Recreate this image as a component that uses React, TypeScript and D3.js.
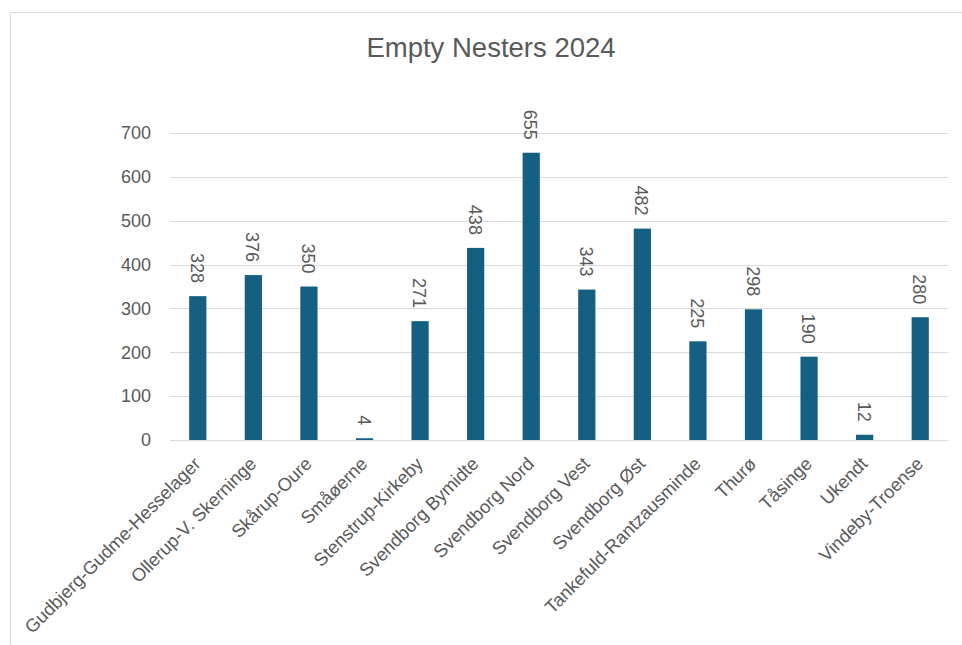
import React from "react";
import * as d3 from "d3";

const categories: string[] = [
  "Gudbjerg-Gudme-Hesselager",
  "Ollerup-V. Skerninge",
  "Skårup-Oure",
  "Småøerne",
  "Stenstrup-Kirkeby",
  "Svendborg Bymidte",
  "Svendborg Nord",
  "Svendborg Vest",
  "Svendborg Øst",
  "Tankefuld-Rantzausminde",
  "Thurø",
  "Tåsinge",
  "Ukendt",
  "Vindeby-Troense",
];
const values: number[] = [328, 376, 350, 4, 271, 438, 655, 343, 482, 225, 298, 190, 12, 280];
const yTicks: number[] = [0, 100, 200, 300, 400, 500, 600, 700];
const title = "Empty Nesters 2024";

const W = 962;
const H = 645;
const FONT = "'Liberation Sans', Arial, sans-serif";
const TEXT = "#595959";
const GRID = "#d9d9d9";
const BAR = "#156082";

export default function App() {
  const x = d3.scaleBand<string>().domain(categories).range([170, 948]).padding(0);
  const y = d3.scaleLinear().domain([0, 700]).range([440, 133]);
  const bw = x.step() * 0.31;

  return (
    <svg
      width={W}
      height={H}
      style={{ position: "absolute", left: 0, top: 0, background: "#fff" }}
      fontFamily={FONT}
    >
      <rect x={10.5} y={12.5} width={1000} height={700} fill="#fff" stroke={GRID} />
      <text x={491} y={57} textAnchor="middle" fontSize={27.5} fill={TEXT}>
        {title}
      </text>
      {yTicks.map((t) => (
        <g key={t}>
          <line x1={170} x2={948} y1={Math.round(y(t)) + 0.5} y2={Math.round(y(t)) + 0.5} stroke={GRID} strokeWidth={1.2} />
          <text x={151} y={y(t)} dy="0.35em" textAnchor="end" fontSize={18} fill={TEXT}>
            {t}
          </text>
        </g>
      ))}
      {categories.map((c, i) => {
        const cx = (x(c) as number) + x.step() / 2;
        const top = y(values[i]);
        return (
          <g key={c}>
            <rect x={cx - bw / 2} y={top} width={bw} height={y(0) - top} fill={BAR} />
            <text
              transform={`translate(${cx - 1},${top - 13}) rotate(90)`}
              textAnchor="end"
              dominantBaseline="central"
              fontSize={18}
              fill={TEXT}
            >
              {values[i]}
            </text>
            <text
              transform={`translate(${cx + 4},${465}) rotate(-45)`}
              textAnchor="end"
              fontSize={18.3}
              fill={TEXT}
            >
              {c}
            </text>
          </g>
        );
      })}
    </svg>
  );
}
